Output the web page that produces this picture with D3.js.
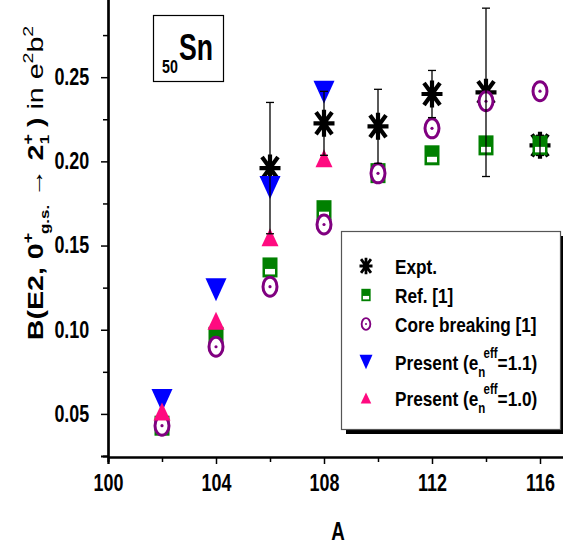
<!DOCTYPE html>
<html>
<head>
<meta charset="utf-8">
<script src="https://cdn.jsdelivr.net/npm/d3@7"></script>
<style>
  body { margin: 0; background: #fff; }
  svg { display: block; font-family: "Liberation Sans", Arial, sans-serif; }
</style>
</head>
<body>
<div id="chartContainer"></div>
<script>
// mass numbers and values (e^2 b^2)
var massA = [102, 104, 106, 108, 110, 112, 114, 116]
var exptA = [106, 108, 110, 112, 114, 116]
var exptVal = [0.196, 0.2226, 0.2208, 0.240, 0.241, 0.2095]
var exptErr = [0.039, 0.019, 0.022, 0.014, 0.050, 0.006]
var refVal = [0.043, 0.0958, 0.137, 0.171, 0.193, 0.2036, 0.2095, 0.2095]
var coreVal = [0.043, 0.0899, 0.1256, 0.1625, 0.1929, 0.2196, 0.2357, 0.2417]
var presentA = [102, 104, 106, 108]
var present11 = [0.058, 0.1238, 0.1845, 0.241]
var present10 = [0.0515, 0.1054, 0.155, 0.2018]
var xTicks = [100, 104, 108, 112, 116]
var yTicks = [0.05, 0.10, 0.15, 0.20, 0.25]

var W = 563, H = 546
var svg = d3.select('#chartContainer').append('svg').attr('width', W).attr('height', H)

var xScale = d3.scaleLinear().domain([100, 117]).range([108, 567])
var yScale = d3.scaleLinear().domain([0.025, 0.3]).range([456, -7])

var green = '#008000', purple = '#800080', blue = '#0000ff', pink = '#ff0a80'
var squeeze = 0.78   // the original figure is horizontally squashed

// axes
var xAxis = d3.axisBottom(xScale).tickValues(xTicks).tickFormat(d3.format('d')).tickSizeOuter(0).tickSize(7).tickPadding(11)
var xMinor = d3.axisBottom(xScale).tickValues(d3.range(102, 117, 4)).tickFormat('').tickSizeOuter(0).tickSize(5)
var yAxis = d3.axisLeft(yScale).tickValues(yTicks).tickFormat(d3.format('.2f')).tickSizeOuter(0).tickSize(7).tickPadding(17)
var yMinor = d3.axisLeft(yScale).tickValues([0.075, 0.125, 0.175, 0.225, 0.275]).tickFormat('').tickSizeOuter(0).tickSize(5)

function styleAxis(g) {
    g.select('.domain').attr('stroke', '#000').attr('stroke-width', 2.2)
    g.selectAll('.tick line').attr('stroke', '#000').attr('stroke-width', 1.5)
    g.selectAll('.tick text').attr('fill', '#000').style('font-size', '23px').style('font-weight', 'bold')
     .attr('transform', 'scale(' + squeeze + ',1)')
}
svg.append('g').attr('transform', 'translate(0,457)').call(xMinor).call(styleAxis)
svg.append('g').attr('transform', 'translate(0,457)').call(xAxis).call(styleAxis)
svg.append('g').attr('transform', 'translate(108,0)').call(yMinor).call(styleAxis)
svg.append('g').attr('transform', 'translate(108,0)').call(yAxis).call(styleAxis)

// axis titles
svg.append('text').attr('transform', 'translate(338,540) scale(0.75,1)').attr('text-anchor', 'middle')
   .style('font-size', '25px').style('font-weight', 'bold').text('A')

var yl = svg.append('text').attr('transform', 'translate(43,183) rotate(-90) scale(1.3,1)').attr('text-anchor', 'middle')
   .style('font-size', '22px').style('font-weight', 'bold')
yl.append('tspan').text('B(E2, 0')
yl.append('tspan').attr('dy', -10).style('font-size', '14px').text('+')
yl.append('tspan').attr('dx', -1).attr('dy', 16).style('font-size', '13px').text('g.s.')
yl.append('tspan').attr('dy', -6).text(' \u2192 2')
yl.append('tspan').attr('dy', -10).style('font-size', '14px').text('+')
yl.append('tspan').attr('dx', -8).attr('dy', 16).style('font-size', '13px').text('1')
yl.append('tspan').attr('dy', -6).text(' )')
yl.append('tspan').style('font-weight', 'normal').text(' in e')
yl.append('tspan').attr('dy', -10).style('font-weight', 'normal').style('font-size', '15px').text('2')
yl.append('tspan').attr('dy', 10).style('font-weight', 'normal').text('b')
yl.append('tspan').attr('dy', -10).style('font-weight', 'normal').style('font-size', '15px').text('2')

// 50Sn box
svg.append('rect').attr('x', 153.5).attr('y', 15.5).attr('width', 70).attr('height', 66)
   .attr('fill', '#fff').attr('stroke', '#000').attr('stroke-width', 1.2)
svg.append('text').attr('transform', 'translate(162,73) scale(0.75,1)').style('font-weight', 'bold')
   .style('font-size', '19px').text('50')
svg.append('text').attr('transform', 'translate(179,60) scale(0.72,1)').style('font-weight', 'bold')
   .style('font-size', '37px').text('Sn')

// marker painters
function asterisk(g, s) {
    var hw = 10.5 * s, hh = 13.5 * s, dw = 8 * s, dh = 11 * s
    var p = 'M0,' + (-hh) + 'L0,' + hh + 'M' + (-hw) + ',0L' + hw + ',0' +
            'M' + (-dw) + ',' + (-dh) + 'L' + dw + ',' + dh + 'M' + (-dw) + ',' + dh + 'L' + dw + ',' + (-dh)
    g.append('path').attr('d', p).attr('stroke', '#000').attr('stroke-width', 3.8 * s + 0.4).attr('fill', 'none')
}
function halfSquare(g, s) {
    g.append('rect').attr('x', -7.5 * s).attr('y', -10 * s).attr('width', 15 * s).attr('height', 20 * s).attr('fill', green)
    g.append('rect').attr('x', -5 * s).attr('y', 1.5 * s).attr('width', 10 * s).attr('height', 5.5 * s).attr('fill', '#fff')
}
function dotCircle(g, s) {
    g.append('ellipse').attr('rx', 7 * s).attr('ry', 9.5 * s).attr('fill', '#fff').attr('stroke', purple).attr('stroke-width', 3 * s)
    g.append('circle').attr('r', 1.6 * s).attr('fill', purple)
}
function downTri(g, s) {
    g.append('path').attr('d', 'M' + (-10.5 * s) + ',' + (-11.5 * s) + 'L' + (10.5 * s) + ',' + (-11.5 * s) + 'L0,' + (11.5 * s) + 'Z').attr('fill', blue)
}
function upTri(g, s) {
    g.append('path').attr('d', 'M' + (-8.5 * s) + ',' + (9 * s) + 'L' + (8.5 * s) + ',' + (9 * s) + 'L0,' + (-9 * s) + 'Z').attr('fill', pink)
}

function drawSeries(xs, ys, painter, cls) {
    svg.selectAll('.' + cls).data(ys).enter().append('g').attr('class', cls)
       .attr('transform', function(d, i) { return 'translate(' + xScale(xs[i]) + ',' + yScale(d) + ')' })
       .each(function() { painter(d3.select(this), 1) })
}
drawSeries(exptA, exptVal, asterisk, 'expt')
drawSeries(massA, refVal, halfSquare, 'ref')
drawSeries(massA, coreVal, dotCircle, 'core')
drawSeries(presentA, present11, downTri, 'p11')
drawSeries(presentA, present10, upTri, 'p10')

// error bars on top
var eb = svg.selectAll('.err').data(exptVal).enter().append('g').attr('class', 'err')
eb.append('line').attr('x1', function(d, i) { return xScale(exptA[i]) }).attr('x2', function(d, i) { return xScale(exptA[i]) })
  .attr('y1', function(d, i) { return yScale(d + exptErr[i]) }).attr('y2', function(d, i) { return yScale(d - exptErr[i]) })
  .attr('stroke', '#000').attr('stroke-width', 1.3)
;[1, -1].forEach(function(sg) {
    eb.append('line').attr('x1', function(d, i) { return xScale(exptA[i]) - 4 }).attr('x2', function(d, i) { return xScale(exptA[i]) + 4 })
      .attr('y1', function(d, i) { return yScale(d + sg * exptErr[i]) }).attr('y2', function(d, i) { return yScale(d + sg * exptErr[i]) })
      .attr('stroke', '#000').attr('stroke-width', 1.3)
})

// legend
var lg = svg.append('g')
lg.append('rect').attr('x', 346).attr('y', 236).attr('width', 219).attr('height', 198).attr('fill', '#000')
lg.append('rect').attr('x', 341.5).attr('y', 231.5).attr('width', 219).attr('height', 198)
  .attr('fill', '#fff').attr('stroke', '#555').attr('stroke-width', 1.2)
var legendItems = [
    { painter: asterisk, y: 266, label: ['Expt.'] },
    { painter: halfSquare, y: 295, label: ['Ref. [1]'] },
    { painter: dotCircle, y: 324, label: ['Core breaking [1]'] },
    { painter: downTri, y: 362, label: ['Present (e', 'n', 'eff', '=1.1)'] },
    { painter: upTri, y: 398, label: ['Present (e', 'n', 'eff', '=1.0)'] }
]
legendItems.forEach(function(it) {
    var g = lg.append('g').attr('transform', 'translate(366,' + it.y + ')')
    it.painter(g, 0.62)
    var t = lg.append('text').attr('transform', 'translate(395,' + (it.y + 8) + ') scale(0.82,1)')
              .style('font-size', '21px').style('font-weight', 'bold')
    t.append('tspan').text(it.label[0])
    if (it.label.length > 1) {
        t.append('tspan').attr('dy', 7).style('font-size', '14px').text(it.label[1])
        t.append('tspan').attr('dx', -2).attr('dy', -19).style('font-size', '14px').text(it.label[2])
        t.append('tspan').attr('dy', 12).text(it.label[3])
    }
})
</script>
</body>
</html>
